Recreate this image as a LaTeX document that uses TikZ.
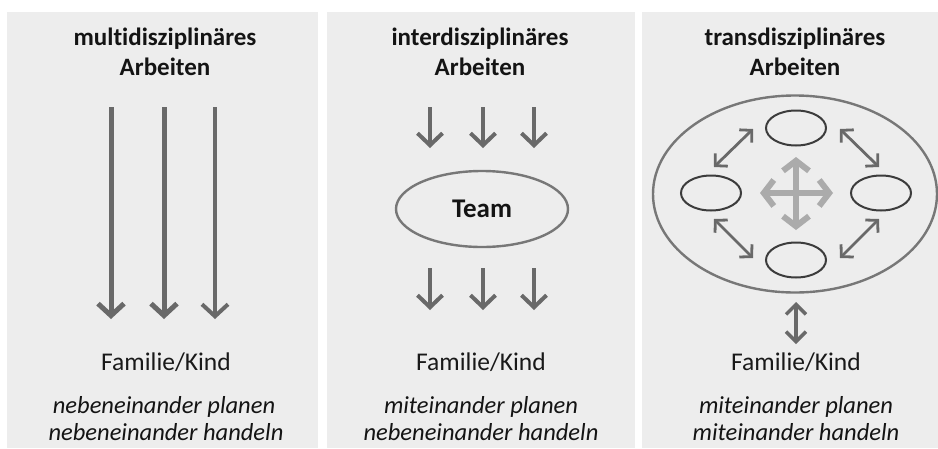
\documentclass[tikz,border=0pt]{standalone}
\usepackage{fontspec}
\setmainfont[Ligatures=NoCommon]{Carlito}
\usetikzlibrary{arrows.meta,shapes.geometric}
\definecolor{panelbg}{HTML}{EDEDED}
\definecolor{arrowgray}{HTML}{696969}
\definecolor{lightarrow}{HTML}{ABABAB}
\definecolor{ringgray}{HTML}{777777}
\definecolor{smallring}{HTML}{3C3C3C}
\begin{document}
\begin{tikzpicture}[x=1pt,y=-1pt,
  panel/.style={fill=panelbg,draw=none},
  titletext/.style={anchor=base,font=\fontsize{25}{30}\selectfont\bfseries,text=black!92},
  famtext/.style={anchor=base,font=\fontsize{25.5}{30}\selectfont,text=black!90},
  ittext/.style={anchor=base,font=\fontsize{24.5}{28}\selectfont\itshape,text=black!92},
  longarrow/.style={draw=arrowgray,line width=5pt,-{Straight Barb[length=12pt,width=26pt]}},
  shortarrow/.style={draw=arrowgray,line width=4pt,-{Straight Barb[length=12pt,width=25pt]}},
  diagarrow/.style={draw=arrowgray,line width=2.8pt,{Straight Barb[length=8.5pt,width=18pt]}-{Straight Barb[length=8.5pt,width=18pt]}},
  crossarrow/.style={draw=lightarrow,line width=6pt,{Straight Barb[length=10pt,width=26pt]}-{Straight Barb[length=10pt,width=26pt]}},
  vertarrow/.style={draw=arrowgray,line width=3.5pt,{Straight Barb[length=10pt,width=20pt]}-{Straight Barb[length=10pt,width=20pt]}},
  teamring/.style={ellipse,draw=ringgray,line width=2.4pt,minimum width=172pt,minimum height=76pt,inner sep=0pt},
  bigring/.style={ellipse,draw=ringgray,line width=2.4pt,minimum width=284pt,minimum height=197pt,inner sep=0pt},
  smallellipse/.style={ellipse,draw=smallring,line width=2pt,minimum width=60pt,minimum height=35pt,inner sep=0pt}
]
\useasboundingbox (0,0) rectangle (938,448);
\fill[white] (0,0) rectangle (938,448);
% panels
\path[panel] (7,12) rectangle (318,448);
\path[panel] (327,12) rectangle (635,448);
\path[panel] (642,12) rectangle (938,448);

% ---------- panel 1 ----------
\node[titletext] (t1a) at (165,45) {multidisziplinäres};
\node[titletext] (t1b) at (165,75) {Arbeiten};
\coordinate (p1s1) at (111,107); \coordinate (p1e1) at (111,319);
\coordinate (p1s2) at (164,107); \coordinate (p1e2) at (164,319);
\coordinate (p1s3) at (215,107); \coordinate (p1e3) at (215,319);
\draw[longarrow] (p1s1) -- (p1e1);
\draw[longarrow] (p1s2) -- (p1e2);
\draw[longarrow,line width=4pt] (p1s3) -- (p1e3);
\node[famtext] (f1) at (166,370) {Familie/Kind};
\node[ittext] (i1a) at (164,413) {nebeneinander planen};
\node[ittext] (i1b) at (166,440) {nebeneinander handeln};

% ---------- panel 2 ----------
\node[titletext] (t2a) at (480,45) {interdisziplinäres};
\node[titletext] (t2b) at (480,75) {Arbeiten};
\node[teamring,font=\fontsize{27}{30}\selectfont\bfseries,text=black!92] (team) at (482,209) {Team};
\foreach \i/\xx in {1/430,2/483,3/534}{
  \coordinate (u\i s) at (\xx,107); \coordinate (u\i e) at (\xx,148);
  \coordinate (d\i s) at (\xx,268); \coordinate (d\i e) at (\xx,310);
  \draw[shortarrow] (u\i s) -- (u\i e);
  \draw[shortarrow] (d\i s) -- (d\i e);
}
\node[famtext] (f2) at (481,370) {Familie/Kind};
\node[ittext] (i2a) at (481,413) {miteinander planen};
\node[ittext] (i2b) at (481,440) {nebeneinander handeln};

% ---------- panel 3 ----------
\node[titletext] (t3a) at (795,45) {transdisziplinäres};
\node[titletext] (t3b) at (795,75) {Arbeiten};
\node[bigring] (big) at (795,194) {};
\node[smallellipse] (etop) at (796,128) {};
\node[smallellipse] (eleft) at (711,193) {};
\node[smallellipse] (eright) at (881,193) {};
\node[smallellipse] (ebot) at (796,260) {};
\coordinate (tl1) at (714,167); \coordinate (tl2) at (753,129);
\coordinate (tr1) at (840,129); \coordinate (tr2) at (879,167);
\coordinate (bl1) at (714,219); \coordinate (bl2) at (753,258);
\coordinate (br1) at (840,258); \coordinate (br2) at (879,219);
\draw[diagarrow] (tl1) -- (tl2);
\draw[diagarrow] (tr1) -- (tr2);
\draw[diagarrow] (bl1) -- (bl2);
\draw[diagarrow] (br1) -- (br2);
\coordinate (cx1) at (760,193); \coordinate (cx2) at (833,193);
\coordinate (cy1) at (796,157); \coordinate (cy2) at (796,230);
\draw[crossarrow] (cx1) -- (cx2);
\draw[crossarrow] (cy1) -- (cy2);
\node[famtext] (f3) at (796,370) {Familie/Kind};
\coordinate (va) at (796,302); \coordinate (vb) at (796,344);
\draw[vertarrow] (va) -- (vb);
\node[ittext] (i3a) at (796,413) {miteinander planen};
\node[ittext] (i3b) at (796,440) {miteinander handeln};
\end{tikzpicture}
\end{document}
